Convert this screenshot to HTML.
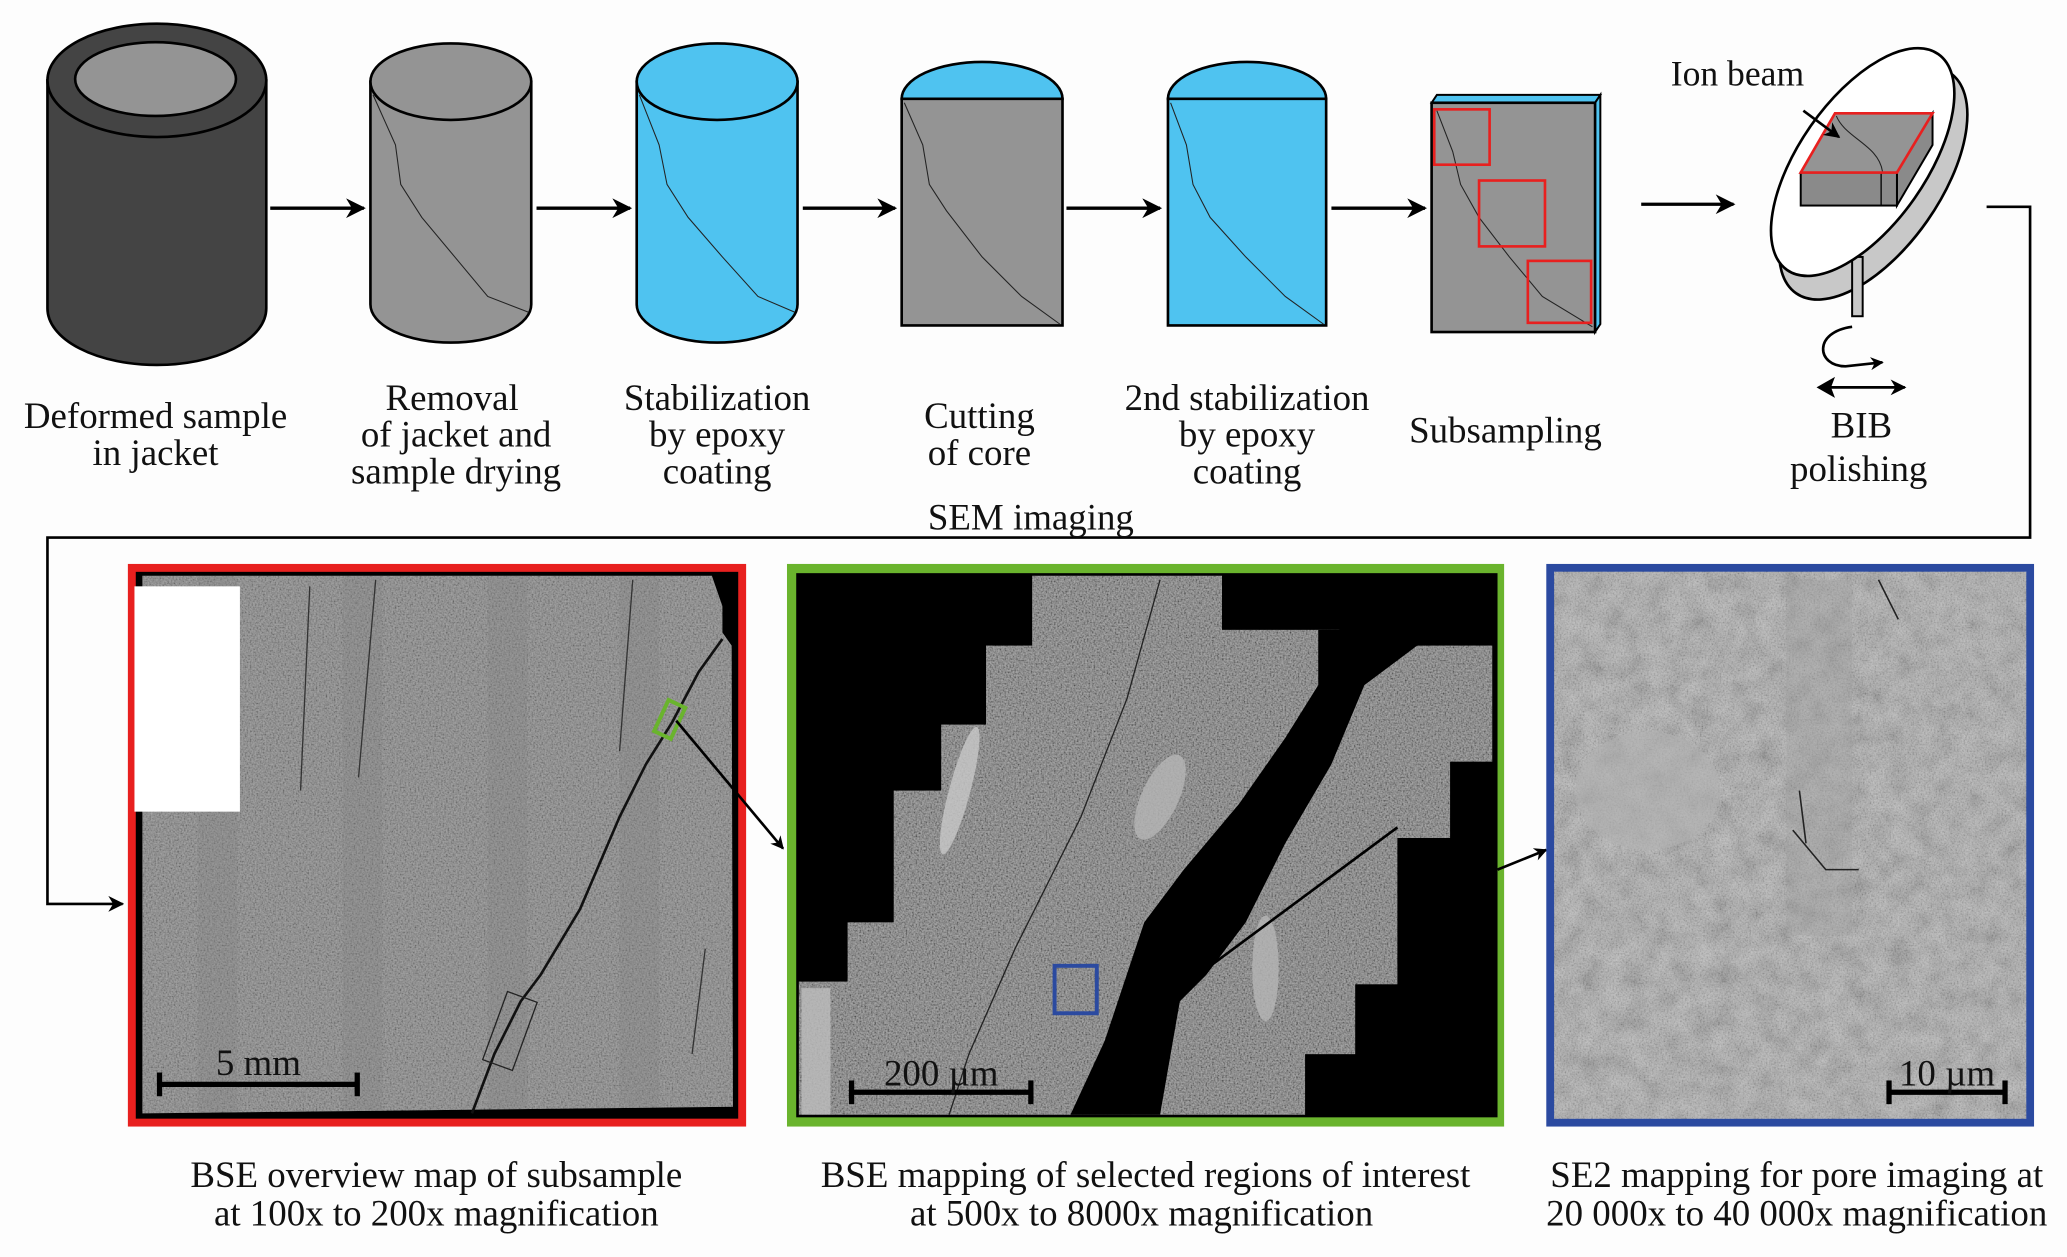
<!DOCTYPE html>
<html><head><meta charset="utf-8"><style>
html,body{margin:0;padding:0;background:#fdfdfd;}
svg{display:block}
text{font-family:"Liberation Serif",serif;fill:#111}
</style></head><body>
<svg width="2067" height="1257" viewBox="0 0 1568 954" preserveAspectRatio="none" xmlns="http://www.w3.org/2000/svg">
<defs>
<marker id="ah" viewBox="0 0 10 10" refX="9" refY="5" markerWidth="6" markerHeight="6" orient="auto"><path d="M0,0 L10,5 L0,10 L3,5z" fill="#000"/></marker>
<marker id="ahs" viewBox="0 0 10 10" refX="9" refY="5" markerWidth="5" markerHeight="5" orient="auto"><path d="M0,0 L10,5 L0,10 L3,5z" fill="#000"/></marker>
<filter id="noise" x="0" y="0" width="100%" height="100%"><feTurbulence type="fractalNoise" baseFrequency="0.8" numOctaves="2" seed="3"/><feColorMatrix type="matrix" values="1.4 0 0 0 -0.3  1.4 0 0 0 -0.3  1.4 0 0 0 -0.3  0 0 0 0 0.4"/></filter>
<filter id="noise2" x="0" y="0" width="100%" height="100%"><feTurbulence type="fractalNoise" baseFrequency="0.06" numOctaves="3" seed="7"/><feColorMatrix type="matrix" values="1.2 0 0 0 -0.05  1.2 0 0 0 -0.05  1.2 0 0 0 -0.05  0 0 0 0 0.25"/></filter>
<clipPath id="redclip"><path d="M108,437 L540,437 L548,460 L548,480 L555,490 L556,840 L108,845 Z"/></clipPath>
<clipPath id="greenclip"><polygon points="783,437 927,437 927,478 1016,478 1016,490 1132,490 1132,578 1100,578 1100,636 1060,636 1060,747 1028,747 1028,800 990,800 990,846 606,846 606,745 643,745 643,700 678,700 678,600 714,600 714,550 748,550 748,490 783,490"/></clipPath>
</defs>
<rect x="0" y="0" width="1568" height="954" fill="#fdfdfd"/>

<path d="M36,61 L36,234 A83,43 0 0 0 202,234 L202,61 Z" fill="#444" stroke="#000" stroke-width="2"/>
<ellipse cx="119" cy="61" rx="83" ry="43" fill="#444" stroke="#000" stroke-width="2"/>
<ellipse cx="118" cy="60" rx="61" ry="28" fill="#949494" stroke="#000" stroke-width="2"/>
<line x1="205" y1="158" x2="276" y2="158" stroke="#000" stroke-width="2.5" marker-end="url(#ah)"/>

<path d="M281,62 L281,231 A61,29 0 0 0 403,231 L403,62 Z" fill="#949494" stroke="#000" stroke-width="2"/>
<ellipse cx="342" cy="62" rx="61" ry="29" fill="#949494" stroke="#000" stroke-width="2"/>
<path d="M283,72 L300,110 L304,140 L320,165 L345,195 L370,225 L401,237" fill="none" stroke="#222" stroke-width="0.8"/>
<line x1="407" y1="158" x2="478" y2="158" stroke="#000" stroke-width="2.5" marker-end="url(#ah)"/>

<path d="M483,62 L483,231 A61,29 0 0 0 605,231 L605,62 Z" fill="#4fc3f0" stroke="#000" stroke-width="2"/>
<ellipse cx="544" cy="62" rx="61" ry="29" fill="#4fc3f0" stroke="#000" stroke-width="2"/>
<path d="M485,72 L500,110 L506,140 L522,165 L548,195 L575,225 L603,237" fill="none" stroke="#222" stroke-width="0.8"/>
<line x1="609" y1="158" x2="679" y2="158" stroke="#000" stroke-width="2.5" marker-end="url(#ah)"/>

<path d="M684,75 A61,28 0 0 1 806,75 Z" fill="#4fc3f0" stroke="#000" stroke-width="2"/>
<rect x="684" y="75" width="122" height="172" fill="#949494" stroke="#000" stroke-width="2"/>
<path d="M686,78 L700,110 L705,140 L718,160 L745,195 L775,225 L804,246" fill="none" stroke="#222" stroke-width="0.8"/>
<line x1="809" y1="158" x2="880" y2="158" stroke="#000" stroke-width="2.5" marker-end="url(#ah)"/>

<path d="M886,75 A60,28 0 0 1 1006,75 Z" fill="#4fc3f0" stroke="#000" stroke-width="2"/>
<rect x="886" y="75" width="120" height="172" fill="#4fc3f0" stroke="#000" stroke-width="2"/>
<path d="M888,78 L900,110 L905,140 L918,165 L945,195 L975,225 L1004,246" fill="none" stroke="#222" stroke-width="0.8"/>
<line x1="1010" y1="158" x2="1081" y2="158" stroke="#000" stroke-width="2.5" marker-end="url(#ah)"/>

<polygon points="1086,78 1090,72 1214,72 1210,78" fill="#4fc3f0" stroke="#000" stroke-width="1.5"/>
<polygon points="1210,78 1214,72 1214,246 1210,252" fill="#4fc3f0" stroke="#000" stroke-width="1.5"/>
<rect x="1086" y="78" width="124" height="174" fill="#949494" stroke="#000" stroke-width="2"/>
<path d="M1090,84 L1102,115 L1108,140 L1122,165 L1145,195 L1170,225 L1208,248" fill="none" stroke="#222" stroke-width="0.8"/>
<rect x="1088" y="83" width="42" height="42" fill="none" stroke="#e8201f" stroke-width="2"/>
<rect x="1122" y="137" width="50" height="50" fill="none" stroke="#e8201f" stroke-width="2"/>
<rect x="1159" y="198" width="48" height="47" fill="none" stroke="#e8201f" stroke-width="2"/>
<line x1="1245" y1="155" x2="1315" y2="155" stroke="#000" stroke-width="2.5" marker-end="url(#ah)"/>

<ellipse cx="1421" cy="139" rx="102" ry="50" transform="rotate(-55 1421 139)" fill="#c8c8c8" stroke="#000" stroke-width="2"/>
<rect x="1405" y="195" width="8" height="45" fill="#c8c8c8" stroke="#000" stroke-width="1.5"/>
<ellipse cx="1413" cy="123" rx="100" ry="48" transform="rotate(-55 1413 123)" fill="#fff" stroke="#000" stroke-width="2"/>
<polygon points="1439,131 1466,86 1466,110 1439,156" fill="#8a8a8a" stroke="#000" stroke-width="1.5"/>
<rect x="1366" y="131" width="73" height="25" fill="#8a8a8a" stroke="#000" stroke-width="1.5"/>
<line x1="1427" y1="131" x2="1427" y2="156" stroke="#000" stroke-width="1"/>
<polygon points="1392,86 1466,86 1439,131 1366,131" fill="#949494" stroke="#e8201f" stroke-width="2"/>
<path d="M1393,88 C1400,105 1425,110 1428,130" fill="none" stroke="#222" stroke-width="0.8"/>
<line x1="1368" y1="84" x2="1395" y2="104" stroke="#000" stroke-width="2" marker-end="url(#ah)"/>
<text x="1318" y="65" font-size="27" text-anchor="middle">Ion beam</text>
<path d="M1405,248 C1375,252 1378,278 1400,278 L1428,275" fill="none" stroke="#000" stroke-width="2" marker-end="url(#ahs)"/>
<line x1="1384" y1="294" x2="1445" y2="294" stroke="#000" stroke-width="2" marker-end="url(#ah)"/>
<path d="M1378,294 L1392,286 L1389,294 L1392,302Z" fill="#000"/>

<polyline points="1507,157 1540,157 1540,408 36,408 36,686 93,686" fill="none" stroke="#000" stroke-width="2" marker-end="url(#ah)"/>

<g font-size="28" text-anchor="middle">
<text x="118" y="325">Deformed sample</text><text x="118" y="353">in jacket</text>
<text x="343" y="311">Removal</text><text x="346" y="339">of jacket and</text><text x="346" y="367">sample drying</text>
<text x="544" y="311">Stabilization</text><text x="544" y="339">by epoxy</text><text x="544" y="367">coating</text>
<text x="743" y="325">Cutting</text><text x="743" y="353">of core</text>
<text x="946" y="311">2nd stabilization</text><text x="946" y="339">by epoxy</text><text x="946" y="367">coating</text>
<text x="1142" y="336">Subsampling</text>
<text x="1412" y="332">BIB</text><text x="1410" y="365">polishing</text>
<text x="782" y="402">SEM imaging</text>
</g>

<rect x="97" y="428" width="469" height="427" fill="#e8201f"/>
<rect x="103" y="434" width="457" height="415" fill="#000"/>
<path d="M108,437 L540,437 L548,460 L548,480 L555,490 L556,840 L108,845 Z" fill="#888"/>
<g clip-path="url(#redclip)"><rect x="108" y="437" width="448" height="408" filter="url(#noise)" opacity="0.7"/>
<rect x="150" y="437" width="30" height="408" fill="#7e7e7e" opacity="0.25"/>
<rect x="260" y="437" width="30" height="408" fill="#7e7e7e" opacity="0.25"/>
<rect x="370" y="437" width="30" height="408" fill="#7e7e7e" opacity="0.25"/>
<rect x="470" y="437" width="30" height="408" fill="#7e7e7e" opacity="0.25"/></g>
<rect x="102" y="445" width="80" height="171" fill="#fff"/>
<path d="M548,485 L530,510 L510,548 L490,580 L470,620 L440,690 L410,740 L395,760 L375,800 L358,845" fill="none" stroke="#111" stroke-width="2"/>
<path d="M235,445 L228,600 M285,440 L272,590 M480,440 L470,570 M535,720 L525,800" stroke="#333" stroke-width="1" fill="none"/>
<rect x="375" y="755" width="24" height="55" transform="rotate(20 387 782)" fill="none" stroke="#222" stroke-width="1"/>
<rect x="501" y="533" width="14" height="26" transform="rotate(25 508 546)" fill="none" stroke="#6ab42d" stroke-width="3"/>
<line x1="513" y1="547" x2="594" y2="644" stroke="#000" stroke-width="2" marker-end="url(#ahs)"/>
<line x1="121" y1="823" x2="271" y2="823" stroke="#000" stroke-width="4"/>
<line x1="121" y1="814" x2="121" y2="832" stroke="#000" stroke-width="4"/>
<line x1="271" y1="814" x2="271" y2="832" stroke="#000" stroke-width="4"/>
<text x="196" y="816" font-size="28" text-anchor="middle">5 mm</text>

<rect x="597" y="428" width="544" height="427" fill="#6ab42d"/>
<rect x="604" y="435" width="532" height="413" fill="#000"/>
<polygon points="783,437 927,437 927,478 1016,478 1016,490 1132,490 1132,578 1100,578 1100,636 1060,636 1060,747 1028,747 1028,800 990,800 990,846 606,846 606,745 643,745 643,700 678,700 678,600 714,600 714,550 748,550 748,490 783,490" fill="#7c7c7c"/>
<g clip-path="url(#greenclip)"><rect x="606" y="437" width="528" height="410" filter="url(#noise)"/>
<ellipse cx="728" cy="600" rx="8" ry="50" transform="rotate(15 728 600)" fill="#c8c8c8" opacity="0.8"/>
<ellipse cx="880" cy="605" rx="14" ry="35" transform="rotate(25 880 605)" fill="#b5b5b5" opacity="0.8"/>
<ellipse cx="960" cy="735" rx="10" ry="40" fill="#b5b5b5" opacity="0.8"/>
<rect x="608" y="750" width="22" height="96" fill="#bdbdbd" opacity="0.8"/></g>
<polygon points="1000,478 1075,478 1075,490 1035,520 1010,580 975,640 945,700 915,740 895,760 880,846 812,846 838,790 868,700 898,660 940,610 975,560 1000,520" fill="#000"/>
<path d="M880,440 L855,530 L820,620 L770,720 L735,800 L720,846" fill="none" stroke="#222" stroke-width="1"/>
<rect x="800" y="733" width="32" height="36" fill="none" stroke="#2b4aa0" stroke-width="3"/>
<line x1="898" y1="748" x2="1060" y2="628" stroke="#000" stroke-width="2"/>
<line x1="1136" y1="660" x2="1173" y2="645" stroke="#000" stroke-width="2" marker-end="url(#ahs)"/>
<line x1="646" y1="829" x2="782" y2="829" stroke="#000" stroke-width="4"/>
<line x1="646" y1="820" x2="646" y2="838" stroke="#000" stroke-width="4"/>
<line x1="782" y1="820" x2="782" y2="838" stroke="#000" stroke-width="4"/>
<text x="714" y="824" font-size="28" text-anchor="middle">200 µm</text>

<rect x="1173" y="428" width="370" height="427" fill="#2b4aa0"/>
<rect x="1179" y="434" width="358" height="415" fill="#a6a6a6"/>
<rect x="1179" y="434" width="358" height="415" filter="url(#noise2)"/>
<rect x="1179" y="434" width="358" height="415" filter="url(#noise)" opacity="0.5"/>
<ellipse cx="1250" cy="600" rx="55" ry="45" fill="#b0b0b0" opacity="0.6"/>
<rect x="1355" y="440" width="50" height="270" fill="#9d9d9d" opacity="0.35"/>
<path d="M1360,630 L1385,660 L1410,660 M1365,600 L1370,640 M1425,440 L1440,470" stroke="#222" stroke-width="1.2" fill="none"/>
<line x1="1433" y1="829" x2="1521" y2="829" stroke="#000" stroke-width="4"/>
<line x1="1433" y1="820" x2="1433" y2="838" stroke="#000" stroke-width="4"/>
<line x1="1521" y1="820" x2="1521" y2="838" stroke="#000" stroke-width="4"/>
<text x="1477" y="824" font-size="28" text-anchor="middle">10 µm</text>

<g font-size="28" text-anchor="middle">
<text x="331" y="901">BSE overview map of subsample</text><text x="331" y="930">at 100x to 200x magnification</text>
<text x="869" y="901">BSE mapping of selected regions of interest</text><text x="866" y="930">at 500x to 8000x magnification</text>
<text x="1363" y="901">SE2 mapping for pore imaging at</text><text x="1363" y="930">20 000x to 40 000x magnification</text>
</g>
</svg>
</body></html>
